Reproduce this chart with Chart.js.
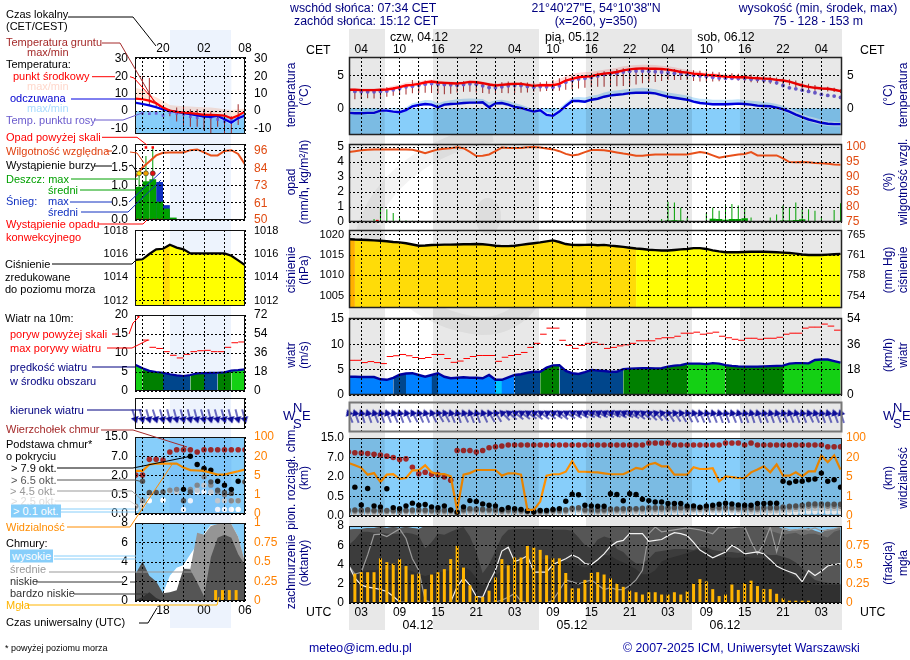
<!DOCTYPE html>
<html lang="pl"><head><meta charset="utf-8">
<style>
html,body{margin:0;padding:0;background:#fff;width:910px;height:660px;overflow:hidden;font-family:"Liberation Sans",Arial,sans-serif}
.t{position:absolute;white-space:nowrap;font-size:11px;line-height:13px;transform:translateY(-50%)}
.c{transform:translate(-50%,-50%)}
.r{transform:translate(-50%,-50%) rotate(-90deg);font-size:12px}
canvas{position:absolute}
.b{position:absolute}
svg{position:absolute;left:0;top:0}
</style>
<script src="https://cdn.jsdelivr.net/npm/chart.js@4"></script>
</head><body>
<script>
// ---------- time axes ----------
const mainHours=[];for(let h=1;h<=78;h++)mainHours.push(h);
const sideHours=[14,15,16,17,18,19,20,21,22,23,24,25,26,27,28,29,30];
const mainTicks=[3,6,9,12,15,18,21,24,27,30,33,36,39,42,45,48,51,54,57,60,63,66,69,72,75];
const sideTicks=[15,18,21,24,27];
const cetLabels=['04','10','16','22','04','10','16','22','04','10','16','22','04'];
const utcLabels=['03','09','15','21','03','09','15','21','03','09','15','21','03'];
const greyBands=[[1.08,6.66],[14.27,30.76],[38.16,54.75],[62.26,78.23]];
const nightBand=[[18.95,28]];

// ---------- main temperature ----------
const tempMid=[2.8,2.8,2.75,2.75,2.75,2.8,2.85,3.0,3.2,3.45,3.55,3.7,3.9,4.05,3.9,3.85,3.8,3.75,3.85,4.0,3.95,3.8,3.6,3.45,3.55,3.65,3.7,3.7,3.55,3.4,3.5,3.5,3.5,3.7,4.2,4.45,4.7,4.8,4.85,5.1,5.25,5.35,5.5,5.75,5.9,6.0,6.05,6.0,6.0,5.95,5.85,5.7,5.5,5.4,5.25,5.15,5.05,5.0,4.9,4.8,4.75,4.7,4.7,4.6,4.55,4.5,4.45,4.3,4.2,4.05,3.75,3.45,3.25,3.1,3.0,2.95,2.8,2.6];
const tempHi=[3.0,3.0,3.0,3.0,3.0,3.05,3.2,3.4,3.6,3.9,4.0,4.1,4.25,4.35,4.2,4.1,4.05,4.0,4.1,4.25,4.2,4.05,3.85,3.75,3.85,3.95,4.0,3.95,3.85,3.7,3.8,3.85,3.95,4.4,4.9,5.2,5.4,5.5,5.55,5.7,5.85,6.0,6.15,6.35,6.5,6.55,6.6,6.6,6.55,6.45,6.35,6.2,6.0,5.85,5.7,5.55,5.4,5.35,5.25,5.15,5.1,5.05,5.0,4.95,4.85,4.75,4.7,4.55,4.45,4.3,4.0,3.7,3.5,3.35,3.25,3.2,3.05,2.85];
const tempLo=[2.6,2.6,2.6,2.6,2.6,2.65,2.7,2.85,3.05,3.3,3.4,3.55,3.75,3.85,3.75,3.7,3.65,3.6,3.7,3.85,3.8,3.65,3.45,3.3,3.4,3.5,3.55,3.55,3.4,3.25,3.35,3.35,3.35,3.5,4.0,4.3,4.55,4.65,4.7,4.95,5.1,5.2,5.35,5.6,5.75,5.85,5.9,5.85,5.85,5.8,5.7,5.55,5.35,5.25,5.1,5.0,4.9,4.85,4.75,4.65,4.6,4.55,4.55,4.45,4.4,4.35,4.3,4.15,4.05,3.9,3.6,3.3,3.1,2.95,2.85,2.8,2.65,2.45];
const feltMid=[-0.7,-0.75,-0.75,-0.7,-0.7,-0.35,-0.35,-0.5,-0.6,-0.3,0.3,0.5,0.65,0.55,0.15,0.55,0.65,0.7,0.8,0.85,0.85,0.9,0.15,0.75,0.8,0.55,0.2,0.05,-0.25,-0.5,-0.3,-1.0,-1.15,-0.5,0.35,1.1,1.1,1.0,1.3,1.45,1.75,1.95,2.05,2.15,2.3,2.35,2.35,2.35,2.25,2.0,1.75,1.6,1.45,1.3,1.0,0.8,0.7,0.6,0.6,0.6,0.65,0.7,0.65,0.55,0.4,0.35,0.3,0.1,-0.15,-0.5,-0.95,-1.35,-1.7,-1.95,-2.2,-2.35,-2.4,-2.4];
const feltHi=[-0.4,-0.45,-0.5,-0.45,-0.4,-0.05,0,-0.1,-0.15,0.15,0.75,1.0,1.25,1.2,0.75,1.05,1.2,1.35,1.45,1.5,1.45,1.4,0.9,1.2,1.3,1.1,0.8,0.55,0.2,-0.1,0.05,-0.55,-0.7,0,0.85,1.6,1.7,1.65,1.9,2.05,2.4,2.6,2.7,2.85,2.95,3.05,3.1,3.05,2.9,2.65,2.4,2.25,2.1,1.95,1.65,1.45,1.4,1.3,1.3,1.3,1.3,1.35,1.25,1.15,1.05,0.95,0.85,0.65,0.4,0,-0.45,-0.85,-1.2,-1.45,-1.75,-1.95,-2.05,-2.1];
const feltLo=[-0.9,-0.95,-0.95,-0.9,-0.9,-0.55,-0.6,-0.75,-0.8,-0.5,0.1,0.3,0.45,0.3,0,0.35,0.45,0.5,0.6,0.65,0.65,0.65,-0.05,0.5,0.55,0.3,0,-0.15,-0.45,-0.7,-0.55,-1.2,-1.35,-0.75,0.15,0.9,0.9,0.8,1.1,1.25,1.55,1.75,1.85,1.95,2.1,2.15,2.15,2.15,2.05,1.8,1.55,1.4,1.25,1.1,0.8,0.6,0.5,0.4,0.4,0.4,0.45,0.5,0.45,0.35,0.2,0.15,0.1,-0.15,-0.45,-0.85,-1.3,-1.7,-2.0,-2.3,-2.55,-2.7,-2.75,-2.75];
const dewPoint=[2.6,2.55,2.5,2.5,2.5,2.55,2.6,2.8,3.0,3.25,3.35,3.5,3.65,3.75,3.65,3.6,3.55,3.5,3.6,3.7,3.65,3.4,3.15,3.1,3.25,3.4,3.45,3.45,3.3,3.2,3.3,3.25,3.2,3.4,3.95,4.25,4.45,4.55,4.65,4.9,5.1,5.2,5.3,5.5,5.6,5.65,5.65,5.6,5.55,5.5,5.4,5.3,5.2,5.1,5.0,4.9,4.8,4.7,4.6,4.55,4.55,4.5,4.5,4.4,4.35,4.25,4.15,3.85,3.45,3.1,2.95,2.75,2.55,2.35,2.1,1.95,1.85,1.65];
const soilMax=[2.75,2.7,2.7,2.77,2.75,2.8,3.18,3.2,3.28,3.6,4.29,4.2,4.19,4.2,4.0,3.88,3.9,3.95,4.09,4.1,4.1,3.95,3.8,3.8,3.95,4.04,4.05,4.0,3.9,3.85,3.95,4.1,4.3,4.54,4.7,4.85,4.9,5.0,5.05,5.4,5.6,5.8,5.95,6.05,6.05,6.05,6.05,6.05,6.05,6.05,6.05,5.95,5.85,5.8,5.75,5.7,5.6,5.55,5.45,5.35,5.3,5.25,5.2,5.1,5.0,4.9,4.8,4.65,4.5,4.4,4.2,3.9,3.7,3.53,3.35,3.25,3.1,2.9];
const soilMin=[1.7,1.35,1.4,1.51,1.5,1.55,1.76,1.9,2.0,2.1,2.27,2.3,2.37,2.3,2.2,2.12,2.2,2.4,2.52,2.5,2.4,2.3,2.2,2.25,2.3,2.27,2.3,2.35,2.4,2.5,2.55,2.6,2.65,2.67,2.8,2.9,3.0,3.1,3.18,3.25,3.28,3.3,3.35,3.38,3.45,3.6,3.78,3.9,4.0,4.15,4.29,4.3,4.3,4.29,4.15,4.04,4.04,4.04,4.1,4.2,4.29,4.2,4.1,3.95,3.85,3.78,3.7,3.6,3.55,3.48,3.2,2.95,2.75,2.67,2.6,2.55,2.45,2.3];

// ---------- main precipitation / humidity ----------
const humidity=[98.3,98.6,98.9,99.1,99.2,99.2,99.2,99.2,99.2,99.2,99.1,98.6,97.9,98.6,99.2,99.4,99.6,99.9,99.6,98.4,97.0,97.1,97.5,98.6,99.8,99.7,99.7,99.7,99.9,100,99.8,99.5,99.2,98.6,97.7,97.2,97.5,98.3,99.0,99.0,98.9,98.6,98.2,97.8,97.5,97.1,97.1,97.3,97.5,97.5,97.5,97.5,97.5,97.5,97.9,98.3,98.0,97.2,96.4,96.8,97.2,97.5,97.7,98.3,97.2,97.2,97.2,97.2,96.2,95.0,94.9,95.0,94.9,94.7,94.6,94.4,94.2,94.1];
const rainMax=[0,0,0,0,0.2,1.0,0.85,0.6,0.25,0.1,0.08,0.03,0,0,0,0,0,0,0,0,0,0,0,0,0,0,0,0,0,0,0,0,0,0,0,0,0,0,0,0,0.03,0,0,0,0,0,0,0,0,0.2,1.35,1.3,0.95,0.3,0.05,0,0.6,0.95,0.75,1.1,1.2,1.1,0.95,0.3,0,0,0.3,0.5,1.1,1.0,1.3,0.85,0.85,0.75,0.35,0,0.8,1.25];
const rainMean=[0,0,0,0,0,0.03,0.02,0.01,0,0,0,0,0,0,0,0,0,0,0,0,0,0,0,0,0,0,0,0,0,0,0,0,0,0,0,0,0,0,0,0,0,0,0,0,0,0,0,0,0,0.02,0.1,0.12,0.1,0.02,0,0,0.03,0.22,0.2,0.15,0.2,0.2,0.25,0.05,0,0,0,0.03,0.1,0.1,0.13,0.18,0.05,0.06,0.02,0,0.03,0.08];
const convectiveHours=[5.5];

// ---------- main pressure ----------
const pressure=[1018.9,1018.8,1018.75,1018.7,1018.6,1018.5,1018.4,1018.2,1018.1,1017.9,1017.6,1017.3,1017.35,1017.45,1017.5,1017.55,1017.55,1017.6,1017.65,1017.65,1017.7,1017.65,1017.5,1017.3,1017.2,1017.2,1017.3,1017.5,1017.7,1017.9,1018.1,1018.35,1018.6,1018.2,1017.7,1017.5,1017.45,1017.5,1017.55,1017.4,1017.5,1017.3,1017.15,1017.0,1016.8,1016.6,1016.5,1016.3,1016.2,1016.1,1016.1,1016.25,1016.4,1016.5,1016.7,1016.7,1016.5,1016.15,1015.9,1015.7,1015.7,1015.7,1015.75,1015.8,1015.8,1015.8,1015.75,1015.7,1015.6,1015.5,1015.35,1015.15,1015.0,1015.0,1015.0,1015.1,1015.2,1015.3];
const pressureTone=[0,0,1,1,1,1,1,1,1,1,1,1,1,1,1,1,1,1,1,1,1,1,1,1,1,1,1,1,1,1,1,1,1,1,1,1,1,1,1,1,1,1,1,1,1,1,2,2,2,2,2,2,2,2,2,2,2,2,2,2,2,2,2,2,2,2,2,2,2,2,2,2,2,2,2,2,2,2];
const pressureColors=['#ffb000','#ffdc08','#ffff00'];

// ---------- main wind ----------
const gustMax=[6.85,6.85,6.85,6.4,6.6,6.4,6.2,7.6,7.75,8,7.75,7.4,7.2,7.4,8,8,7.2,6.45,6.7,7.2,7.6,7.8,7.8,7.8,6.65,7.45,7.8,8,8.4,9.4,10.2,12,13.2,13.2,10.8,9.8,9.2,9.8,10.2,10.4,10,9.2,9.4,9.7,9.9,10.2,10.7,10.7,10.7,11.1,11.3,11.3,11.6,12.2,12.2,12.4,12,12.2,12.4,11.6,11.3,11,10.8,11.2,11.2,11,11.2,11.2,11.4,12,12.2,12.2,13.2,13.4,13.4,14,13.6,12.8];
const windSpeed=[3.6,3.6,3.55,3.55,3.55,3.1,3.0,3.4,4.0,4.25,4.3,3.95,3.6,3.95,4.3,3.6,3.3,3.4,3.5,3.4,3.4,3.3,3.95,3.0,3.0,3.5,3.95,4.1,4.4,4.6,4.6,5.4,5.85,5.9,4.75,4.3,4.15,4.5,4.95,4.85,4.75,4.6,4.6,5.1,5.2,5.25,5.3,5.3,5.25,5.3,5.6,5.8,5.9,6.2,6.2,6.2,6.1,6.3,6.2,5.9,5.75,5.65,5.6,5.6,5.6,5.65,5.7,5.75,5.8,6.2,6.3,6.3,6.25,6.9,7,7,6.7,6.4];
const windClass=[0,0,0,0,0,0,0,0,2,2,0,0,0,0,2,0,0,0,0,0,0,0,0,0,1,0,0,2,2,2,2,3,3,3,2,2,2,2,2,2,2,2,2,2,3,3,3,3,3,3,3,3,3,3,4,4,4,4,4,4,3,3,3,3,3,3,3,3,3,4,4,4,4,4,4,4,4,4];
const windColors=['#0080ff','#00c8ff','#00468c','#008000','#14d014'];
const windDir=[158,160,162,160,158,160,158,156,160,155,152,156,158,154,150,152,158,160,155,158,160,155,150,148,135,130,128,126,124,128,126,124,122,128,122,120,118,116,118,116,116,114,118,116,122,126,130,134,138,142,146,146,150,152,154,156,158,158,160,160,158,160,160,162,160,158,160,158,156,158,160,158,155,158,160,160,160,162];

// ---------- main cloud base (axis steps 0..4 = 0, 0.5, 2, 7, 15 km) ----------
const baseLabels=['0.0','0.5','2.0','7.0','15.0'];
const visLabels=['0','1','5','20','100'];
const cloudTopBase=[3.28,3.24,3.23,3.2,3.17,3.13,3.07,3.0,2.9,2.93,2.5,2.17,2.24,2.14,2.12,2.0,1.83,3.36,3.36,3.36,3.28,3.36,3.5,3.55,3.59,3.64,3.64,3.64,3.64,3.64,3.64,3.64,3.64,3.64,3.64,3.64,3.64,3.64,3.64,3.64,3.64,3.64,3.64,3.64,3.64,3.64,3.64,3.74,3.74,3.74,3.74,3.64,3.64,3.64,3.64,3.64,3.64,3.64,3.64,3.74,3.74,3.74,3.64,3.74,3.64,3.64,3.64,3.64,3.64,3.64,3.64,3.64,3.64,3.64,3.64,3.55,3.55,3.55];
const base79=[null,1.48,0.57,1.41,0.52,0.47,1.4,0.43,0.38,0.52,0.66,0.55,0.59,0.47,0.43,0.52,0.31,0.2,0.47,0.79,0.74,0.62,0.55,0.52,0.34,0.43,0.38,0.34,0.26,0.22,0.29,0.29,0.34,0.38,0.76,1.12,1.09,0.55,0.52,0.5,0.5,1.14,1.1,0.78,1.14,1.1,0.86,0.79,0.72,0.72,0.64,0.64,0.64,0.52,0.52,0.45,0.52,0.55,0.6,0.66,0.62,0.57,0.55,0.55,0.64,0.64,0.66,0.66,1.78,1.7,1.78,1.78,1.86,1.9,2.2,1.78,1.86,1.48];
const base65=[0.3,0.31,0.3,0.32,0.3,0.3,0.29,0.3,0.28,0.3,0.31,0.32,0.31,0.3,0.29,0.31,0.3,0.2,0.33,0.37,0.36,0.35,0.34,0.33,0.3,0.32,0.31,0.3,0.27,0.24,0.26,0.26,0.3,0.31,0.32,0.4,0.42,0.33,0.32,0.32,0.33,0.36,0.36,0.38,0.38,0.38,0.4,0.42,0.42,0.42,0.42,0.44,0.44,0.44,0.42,0.42,0.41,0.43,0.43,0.44,0.43,0.42,0.42,0.42,0.42,0.43,0.44,0.44,0.46,0.5,0.52,0.56,0.6,0.62,0.62,0.6,0.6,0.6];
const base45=[0.24,0.25,0.24,0.26,0.24,0.25,0.23,0.24,0.22,0.25,0.25,0.26,0.25,0.24,0.23,0.25,0.24,0.14,0.27,0.3,0.3,0.29,0.28,0.27,0.24,0.26,0.25,0.24,0.21,0.18,0.2,0.2,0.24,0.25,0.26,0.33,0.35,0.27,0.26,0.26,0.27,0.3,0.3,0.31,0.32,0.32,0.33,0.35,0.35,0.35,0.35,0.36,0.37,0.36,0.35,0.35,0.34,0.36,0.36,0.37,0.36,0.35,0.35,0.35,0.35,0.36,0.37,0.37,0.38,0.42,0.44,0.47,0.5,0.52,0.52,0.5,0.5,0.5];
const base25=[0.17,0.18,0.17,0.19,0.17,0.18,0.16,0.17,0.15,0.18,0.18,0.19,0.18,0.17,0.16,0.18,0.17,0.1,0.2,0.22,0.22,0.21,0.2,0.2,0.17,0.19,0.18,0.17,0.15,0.13,0.14,0.14,0.17,0.18,0.19,0.24,0.26,0.2,0.19,0.19,0.2,0.22,0.22,0.23,0.24,0.24,0.25,0.26,0.26,0.26,0.26,0.27,0.27,0.27,0.26,0.26,0.25,0.27,0.27,0.27,0.27,0.26,0.26,0.26,0.26,0.27,0.27,0.27,0.28,0.31,0.33,0.35,0.38,0.39,0.39,0.38,0.38,0.38];
const base01=[0.09,0.1,0.09,0.1,0.09,0.1,0.09,0.09,0.08,0.1,0.1,0.1,0.1,0.09,0.09,0.1,0.09,0.06,0.11,0.12,0.12,0.11,0.11,0.11,0.09,0.1,0.1,0.09,0.08,0.07,0.08,0.08,0.09,0.1,0.1,0.13,0.14,0.11,0.1,0.1,0.11,0.12,0.12,0.13,0.13,0.13,0.14,0.14,0.14,0.14,0.14,0.15,0.15,0.15,0.14,0.14,0.14,0.15,0.15,0.15,0.15,0.14,0.14,0.14,0.14,0.15,0.15,0.15,0.16,0.17,0.18,0.19,0.21,0.22,0.22,0.21,0.21,0.21];
const visibility=[2.72,2.6,2.47,2.12,2.2,1.74,2.12,2.15,1.9,1.95,2.34,2.34,2.6,2.24,2.15,2.15,2.03,0.31,2.12,2.2,2.36,2.36,2.36,2.36,2.07,2.19,2.19,2.12,0.31,0.31,0.74,2.07,2.14,2.14,2.27,2.81,2.27,2.27,2.25,2.24,2.19,2.14,2.14,2.14,2.29,2.47,2.41,2.64,2.72,2.55,2.55,2.12,2.12,2.12,2.5,2.41,2.41,2.45,1.78,2.03,1.99,1.95,1.95,2.24,2.38,2.55,2.24,2.64,2.07,2.07,2.24,2.03,2.29,2.29,3.1,2.76,3.1,2.38];

// ---------- main clouds ----------
const cloudA=[7.6,7.7,7.7,7.8,7.8,7.9,7.8,7.9,7.8,7.9,7.8,7.7,8,8,8,8,8,8,8,8,8,8,8,8,8,8,8,8,8,8,8,8,8,8,8,8,8,8,8,8,8,8,8,8,8,8,8,8,8,8,8,8,8,8,8,8,8,8,8,8,8,8,8,8,8,8,8,8,7.7,7.5,7.7,7.6,7.8,7.5,7.3,7.7,7.7,7.9];
const cloudB=[7.6,7.7,7.7,7.8,7.8,7.9,7.8,7.9,7.8,7.9,7.8,7.7,8,8,8,8,8,8,8,8,8,8,8,8,8,8,8,8,8,8,8,8,8,8,8,8,8,8,8,8,8,8,8,8,8,8,8,8,8,8,8,8,8,8,8,8,8,8,8,8,8,8,8,8,8,7.7,7.5,7.3,7.1,7.2,7.3,7.0,7.2,7.2,7.0,6.8,7.4,7.6];
const cloudC=[6.0,6.6,7.4,7.4,7.3,7.3,7.2,7.2,7.2,7.3,7.2,7.0,5.7,6.3,7.2,7.1,7.4,7.7,7.9,6.9,5.3,3.1,4.0,5.4,6.9,7.6,7.7,7.7,7.7,7.7,7.7,7.7,7.6,7.6,7.6,7.5,6.8,6.0,5.7,6.6,6.9,6.7,5.6,5.3,4.6,4.1,4.1,4.6,5.3,5.4,5.5,5.6,5.6,5.6,5.5,5.8,5.8,5.5,5.4,5.3,5.3,5.2,5.3,5.2,5.2,5.1,5.0,5.0,4.8,4.6,4.2,3.6,3.0,2.4,2.2,2.1,2.0,2.0];
const cloudD=[3.0,3.1,3.3,3.4,3.4,3.5,3.5,3.4,3.4,3.5,3.3,3.0,2.8,3.0,3.2,3.3,3.4,3.6,3.8,3.4,2.6,1.8,2.2,2.8,3.4,3.8,4.0,4.1,4.2,4.4,4.5,4.6,4.6,4.5,4.3,4.1,3.9,3.7,3.9,4.4,5.0,4.9,4.5,4.2,3.9,3.5,3.0,3.0,3.4,4.3,4.6,4.8,5.0,5.2,5.4,5.6,5.5,5.0,4.8,4.8,4.7,4.7,4.8,4.7,4.7,4.6,4.4,4.0,3.6,3.0,2.6,2.2,2.0,1.9,1.9,1.9,1.9,1.9];
const lineWhite=[3.95,2.6,1.85,1.65,1.55,1.4,1.2,0.7,0.1,0.05,0,0,0,0,0,0,0.1,1.7,2.6,1.85,0.7,0.6,2.1,3.4,5.4,5.8,4.3,4.55,4.9,3.2,3.2,3.2,4.0,4.3,4.6,5.0,4.7,4.1,4.0,4.5,5.1,5.9,6.35,6.5,7.2,7.2,7.2,6.4,6.5,6.6,7.0,7.3,7.2,7.0,6.3,5.5,5.1,4.7,5.0,5.3,6.0,5.6,5.1,5.2,5.3,5.1,4.5,3.85,3.5,3.25,3.0,2.2,3.35,2.85,3.3,3.85,4.0,4.1];
const lineGrey=[3.95,3.0,3.2,5.0,7.1,7.15,6.9,7.3,7.7,6.7,4.6,3.4,0.3,0,0,0,0,0,0,0,0,0,0,0.1,0.3,0.6,1.0,0.2,0,0,0,0,0.3,1.3,2.4,2.2,2.0,2.2,2.4,1.9,1.4,1.6,1.4,1.4,1.8,2.4,3.4,7.2,7.9,7.4,7.5,7.6,7.7,7.8,7.7,7.6,7.4,7.2,7.9,7.8,7.8,7.9,7.9,6.4,5.1,6.2,7.9,5.3,7.8,7.6,7.6,7.7,7.6,7.8,7.5,7.6,7.7,7.9];
const fogShare=[0.3,0.38,0.4,0.4,0.4,0.58,0.53,0.51,0.57,0.48,0.37,0.38,0.18,0.37,0.4,0.44,0.57,0.74,0.46,0.23,0.09,0.08,0.16,0.33,0.57,0.49,0.59,0.59,0.74,0.72,0.69,0.62,0.58,0.58,0.39,0.19,0.19,0.3,0.39,0.4,0.37,0.32,0.25,0.21,0.16,0.14,0.11,0.14,0.14,0.11,0.11,0.14,0.11,0.15,0.25,0.31,0.28,0.18,0.09,0.11,0.24,0.17,0.26,0.29,0.22,0.18,0.18,0.12,0.06,0.03,0.03,0.03,0.03,null,null,null,null,null];

// ---------- side column ----------
const sideTemp=[7.2,6.8,6,4.5,2,0.3,-0.5,-0.9,-1.2,-1.6,-2.2,-2.2,-2.3,-2.6,-4.1,-2.5,-0.3];
const sideTempHi=[13.3,12.5,9.5,8,6,3.5,3,2.8,2.6,2.4,2.2,2,1.6,1,0.6,1,1.5];
const sideTempLo=[6.5,6,5,3.5,1.2,-0.3,-1,-1.5,-1.8,-2.2,-2.8,-2.8,-2.8,-3.2,-5,-3.2,-1];
const sideFelt=[4.8,4.1,3.3,2.2,1,0.1,-0.5,-1.2,-1.8,-2.5,-3.2,-3.3,-2.8,-4.7,-6.7,-4.1,-2.6];
const sideFeltHi=[5.5,5,4,3,1.8,0.8,0,-0.5,-1,-1.8,-2.5,-2.6,-2.1,-4,-6,-3.4,-2];
const sideFeltLo=[4,3.4,2.6,1.4,0.2,-0.8,-1.4,-2.1,-2.7,-3.4,-4.2,-4.2,-3.8,-5.8,-8,-5.2,-3.6];
const sideDew=[null,-1.3,-1.5,-1.3,-2.5,-0.8,-1.3,-1.9,-3.2,-3.8,-3.2,-3.8,-4.8,-6,-5,-4,-2.5];
const sideSoilMax=[null,20.2,19,5,3,1,2,3,1,1,1,0,-2,-2,-3,4,null];
const sideSoilMin=[null,6.4,3,2,0,-3,-6,-8,-9,-9,-11,-13,-9,-13,-13,-8,null];
const sideHumidity=[79,85,89,93,94.7,95,95,95,96.5,97,95,93,93,96,96.5,94,87];
const sideRainMean=[0.96,1.12,1.18,0.53,0.33,0.07,0,0,0,0,0,0,0,0,0,0,0];
const sideSnowMean=[0,0,0,1.1,0.43,0,0,0,0,0,0,0,0,0,0,0,0];
const sideStemHours=[14.5,15.5,16.5];
const sideStemTop=[1.35,1.85,2.1];
const sideStormColors=['#ffe000','#f0a000','#e01010'];
const sideOverHours=[15.5,16.5];
const sideConvective=[14.3,14.9,15.5,16,16.6,17.2,17.8];
const sidePressure=[1015.5,1015.55,1016.0,1016.4,1016.45,1016.8,1016.55,1016.4,1016.05,1016.05,1016.05,1016.05,1016.05,1016.05,1015.85,1015.45,1015.05];
const sidePressureTone=[2,2,2,2,2,1,2,2,2,2,2,2,2,2,2,2,2];
const sideGust=[null,null,13.4,11.5,11.2,10.35,9.4,8.7,9.65,10.35,10.6,10.7,10.35,10.35,11.5,12.7,12.9];
const sideWind=[6.85,6,5.3,5,4.8,4.4,4.1,3.95,4.2,4.65,4.7,4.75,4.8,4.9,5.35,5.5,5.7];
const sideWindClass=[4,4,3,3,3,2,2,2,2,3,3,2,2,3,3,4,4];
const sideDir=[342,345,344,342,344,346,345,344,346,345,344,346,345,344,345,346,345];
const sideTop=[2.02,2.02,2.84,2.84,2.8,3.22,3.34,3.34,3.34,3.22,3.34,3.34,3.34,3.34,3.34,3.34,3.34];
const side79=[null,null,null,null,null,null,null,1.28,3.0,2.57,2.36,2.28,1.7,1.5,1.28,1.7,null];
const side65=[null,1.7,1.12,1.12,1.15,null,null,0.69,1.15,null,2.3,1.67,1.24,1.12,1.07,null,1.67];
const side45=[0.41,0.69,null,null,null,1.24,1.28,null,1.28,1.5,1.93,1.5,1.15,1.0,0.69,0.69,1.67];
const side25=[0.34,0.41,1.0,null,null,1.19,1.15,null,null,1.24,1.5,1.15,0.69,0.69,0.69,0.69,null];
const side01=[0.29,0.45,0.69,null,0.72,null,null,0.24,0.69,1.15,1.15,1.1,0.24,0.24,0.24,0.24,null];
const sideVis=[2.24,2.24,2.57,2.62,2.62,2.62,2.62,2.41,2.28,2.26,2.24,2.14,2.05,2.05,2.14,2.22,2.31];
const sideCloudWhite=[0,0,0,0,0.8,2.6,3.4,3.7,4.8,5.8,6.9,7.8,7.8,7.9,7.9,6.6,4.0];
const sideCloudGrey=[0,0,0,0,0,0,0,3.3,3.3,7.0,6.8,7.7,7.9,7.9,7.9,6.6,4.0];
const sideCloudDark=[2.8,4.05,2.6,2.0,0.8,0.9,1.1,3.3,3.2,1.9,0.5,4.5,6.5,6.8,6.5,4.8,3.7];
const sideCloudLow=[0.1,0.4,0.9,0.3,0,0,0,0,0,0,0,0,0,0,0,0,0];
const sideFog=[null,null,null,null,null,null,null,null,null,null,null,null,0.14,0.14,0.14,0.14,null];

// ---------- text ----------
const navy='#000080';
function T(s,x,y,c,extra){const d=document.createElement('div');d.className='t';d.textContent=s;d.style.left=x+'px';d.style.top=y+'px';d.style.color=c||'#000';if(extra)Object.assign(d.style,extra);document.body.appendChild(d);return d}
function C(s,x,y,c,extra){const d=T(s,x,y,c,extra);d.classList.add('c');return d}
function R(s,x,y){const d=T(s,x,y,navy);d.className='t r';return d}

// ---------- backdrop ----------
const mainX={l:349,r:842,min:1.08,max:78.23};
const sideX={l:135,r:245,min:13.9,max:30};
function px(ax,h){return ax.l+(h-ax.min)/(ax.max-ax.min)*(ax.r-ax.l)}
document.body.insertAdjacentHTML('beforeend','<svg width="910" height="660" style="z-index:0"><g fill="none" stroke="#f3f3f3" stroke-width="18"><path d="M365 232C380 180 430 145 492 133"/><path d="M372 225C372 272 420 322 482 326C522 326 542 292 546 258"/></g><ellipse cx="488" cy="216" rx="13" ry="18" fill="#f3f3f3"/></svg>');
greyBands.forEach(b=>{const x0=px(mainX,b[0]),x1=px(mainX,b[1]);const d=document.createElement('div');d.className='b';Object.assign(d.style,{left:x0+'px',width:(x1-x0)+'px',top:'29px',height:'601px',background:'#e8e8e8',mixBlendMode:'multiply'});document.body.appendChild(d)});
nightBand.forEach(b=>{const x0=px(sideX,b[0]),x1=px(sideX,b[1]);const d=document.createElement('div');d.className='b';Object.assign(d.style,{left:x0+'px',width:(x1-x0)+'px',top:'30px',height:'598px',background:'#edf3fd'});document.body.appendChild(d)});

// ---------- chart helpers ----------
const FONT={family:'"Liberation Sans",Arial,sans-serif',size:11};
const FONT_BIG={family:'"Liberation Sans",Arial,sans-serif',size:12};
Chart.defaults.font=FONT;Chart.defaults.animation=false;
const xy=(hs,vs)=>hs.map((h,i)=>({x:h,y:vs[i]}));
const line=(hs,vs,c,w,o)=>Object.assign({type:'line',data:xy(hs,vs),borderColor:c,borderWidth:w,pointRadius:0,tension:0,fill:false},o||{});
const dots=(hs,vs,c,r,o)=>Object.assign({type:'line',data:xy(hs,vs),showLine:false,pointRadius:r,pointBackgroundColor:c,pointBorderColor:c,pointBorderWidth:0},o||{});
const bars=(hs,vs,c,w,o)=>Object.assign({type:'bar',data:xy(hs,vs),backgroundColor:c,barThickness:w,grouped:false,inflateAmount:0},o||{});
const area=(hs,vs,c,o)=>Object.assign({type:'line',data:xy(hs,vs),borderWidth:0,pointRadius:0,tension:0,fill:'start',backgroundColor:c,borderColor:'transparent'},o||{});
const toned=(vs,tone,key)=>vs.map((v,i)=>(tone[i]===key||tone[i+1]===key)?v:null);
const multiplyPlugin=bands=>({id:'mult',afterDatasetsDraw(ch){const {ctx,chartArea:a,scales:{x}}=ch;ctx.save();ctx.globalCompositeOperation='multiply';ctx.fillStyle=bands.col;bands.list.forEach(b=>{const x0=Math.max(a.left,x.getPixelForValue(b[0])),x1=Math.min(a.right,x.getPixelForValue(b[1]));ctx.fillRect(x0,a.top,x1-x0,a.bottom-a.top)});ctx.restore()}});
const framePlugin=(c,w)=>({id:'frame',afterDraw(ch){const {ctx,chartArea:a}=ch;ctx.save();ctx.strokeStyle=c;ctx.lineWidth=w;ctx.strokeRect(a.left+.5,a.top+.5,a.right-a.left-1,a.bottom-a.top-1);ctx.restore()}});
const noPad=s=>{s.paddingTop=0;s.paddingBottom=0;s.paddingLeft=0;s.paddingRight=0};
function yAxis(side,cfg,M){return {type:'linear',position:side,min:cfg.min,max:cfg.max,
  afterBuildTicks(s){s.ticks=cfg.ticks.map(v=>({value:v}))},
  afterFit(s){s.width=M;noPad(s)},
  grid:{display:!!cfg.grid,color:'#000',lineWidth:1,drawTicks:false,z:1},
  border:{display:false,dash:[2,2]},
  ticks:{display:true,color:cfg.color||'#000',padding:cfg.pad,autoSkip:false,font:cfg.font||FONT,callback(v,i){return cfg.labels?cfg.labels[i]:String(v)}}}}
function panel(rect,ax,xt,opt){
  const M=70,top=opt.xLabels==='top'?22:8,bot=opt.xLabels==='bottom'?22:8;
  const cv=document.createElement('canvas');
  const W=ax.r-ax.l+2*M,H=rect[1]-rect[0]+top+bot;
  cv.width=W;cv.height=H;cv.style.left=(ax.l-M)+'px';cv.style.top=(rect[0]-top)+'px';cv.style.width=W+'px';cv.style.height=H+'px';
  document.body.appendChild(cv);
  opt.datasets.forEach((d,i)=>{d.order=-i;d.xAxisID='x';d.yAxisID=d.yAxisID||'y'});
  const scales={x:{type:'linear',offset:false,position:opt.xLabels==='top'?'top':'bottom',min:ax.min,max:ax.max,
      afterBuildTicks(s){s.ticks=xt.map(v=>({value:v}))},
      afterFit(s){s.height=opt.xLabels==='top'?top:(opt.xLabels==='bottom'?bot:0);noPad(s)},
      grid:{offset:false,color:'#000',lineWidth:1,drawTicks:false,z:1},border:{display:false,dash:[2,2]},
      ticks:{display:!!opt.xLabels,color:'#000',autoSkip:false,maxRotation:0,padding:opt.xPad||0,font:opt.xFont||FONT,callback(v){return opt.xFn?opt.xFn(v):''}}},
    y:yAxis('left',opt.y,M)};
  if(opt.yr)scales.yr=yAxis('right',opt.yr,M);
  const plugins=[];
  if(opt.mult)plugins.push(multiplyPlugin(opt.mult));
  if(opt.bg)plugins.push({id:'bg',beforeDatasetsDraw(ch){const a=ch.chartArea;ch.ctx.save();ch.ctx.fillStyle=opt.bg;ch.ctx.fillRect(a.left,a.top,a.right-a.left,a.bottom-a.top);ch.ctx.restore()}});
  plugins.push(framePlugin(opt.fc||'#111',opt.fw||1));
  return new Chart(cv,{type:'line',data:{datasets:opt.datasets},plugins,
    options:{responsive:false,animation:false,devicePixelRatio:1,
      layout:{padding:{top:opt.xLabels==='top'?0:top,bottom:opt.xLabels==='bottom'?0:bot,left:0,right:opt.yr?0:M}},
      plugins:{legend:{display:false},tooltip:{enabled:false}},scales}});
}
function arrowImage(col){const c=document.createElement('canvas');c.width=c.height=30;const g=c.getContext('2d');g.strokeStyle=col;g.fillStyle=col;g.lineWidth=1.2;g.beginPath();g.moveTo(15,15);g.lineTo(15,26);g.stroke();g.beginPath();g.moveTo(15,11.5);g.lineTo(11,18);g.lineTo(19,18);g.closePath();g.fill();return c}
const arrow=arrowImage('#0c0c98');
const MF={col:'#e8e8e8',list:greyBands},SF={col:'#edf3fd',list:nightBand};
const gustX=mainHours.map(h=>h-0.5),sideGustX=sideHours.map(h=>h-0.5);
const mainCet=v=>{const k=(v-3)/6;return Number.isInteger(k)?cetLabels[k]:''};
const mainUtc=v=>{const k=(v-3)/6;return Number.isInteger(k)?utcLabels[k]:''};
const sideCet=v=>({18:'20',24:'02',30:'08'})[v]||'';
const sideUtc=v=>({18:'18',24:'00',30:'06'})[v]||'';
// the side axes carry their end label as an extra unlined tick
const sideTicksL=sideTicks.concat([30]);

// ---------- MAIN PANELS ----------
const SKY='#87cefa',BLUE='#0000e0',RED='#ff0000',BROWN='#a52a2a',DEW='#7060d8';
const BF=FONT_BIG;
panel([57,135],mainX,mainTicks,{xLabels:'top',xPad:0,xFn:mainCet,xFont:BF,mult:MF,fw:1.5,fc:'#222',
 y:{min:-4.05,max:7.77,ticks:[5,0],grid:1,pad:5,font:BF},yr:{min:-4.05,max:7.77,ticks:[5,0],pad:5,font:BF},
 datasets:[
  area(mainHours,mainHours.map(()=>0),SKY),
  line(mainHours,tempHi,'transparent',0,{fill:'+1',backgroundColor:'#ffdcdc'}),
  line(mainHours,tempLo,'transparent',0),
  line(mainHours,feltHi,'transparent',0,{fill:'+1',backgroundColor:'#bfe3fb'}),
  line(mainHours,feltLo,'transparent',0),
  bars(mainHours,mainHours.map((h,i)=>[soilMin[i],soilMax[i]]),BROWN,1),
  dots(mainHours,dewPoint,DEW,1.9),
  line(mainHours,feltMid,BLUE,2.4),
  line(mainHours,tempMid,RED,2.4)
 ]});
panel([144,222],mainX,mainTicks,{fw:1.5,fc:'#222',
 y:{min:0,max:5.2,ticks:[0,1,2,3,4,5],grid:1,pad:5,font:BF},
 yr:{min:75,max:101,ticks:[75,80,85,90,95,100],color:'#e04a10',pad:4,font:BF},
 datasets:[
  bars(mainHours,rainMax,'#00a000',1),
  bars(mainHours,rainMean,'#00a000',6.4),
  dots(convectiveHours,[0.05],RED,2,{pointStyle:'rect'}),
  line(mainHours,humidity,'#e8501a',2,{yAxisID:'yr'})
 ]});
panel([230,308],mainX,mainTicks,{fw:1.5,fc:'#222',
 y:{min:1002,max:1021.15,ticks:[1020,1015,1010,1005],grid:1,pad:5},
 yr:{min:751.56,max:765.9,ticks:[765,761.3,757.6,753.8],labels:['765','761','758','754'],pad:5},
 datasets:[
  area(mainHours,toned(pressure,pressureTone,2),pressureColors[2]),
  area(mainHours,toned(pressure,pressureTone,1),pressureColors[1]),
  area(mainHours,toned(pressure,pressureTone,0),pressureColors[0]),
  line(mainHours,pressure,'#000',2.4)
 ]});
panel([318,395],mainX,mainTicks,{fw:1.5,fc:'#222',
 y:{min:0,max:15.2,ticks:[0,5,10,15],grid:1,pad:5,font:BF},
 yr:{min:0,max:54.7,ticks:[0,18,36,54],pad:5,font:BF},
 datasets:[
  ...windColors.map((c,k)=>area(mainHours,toned(windSpeed,windClass,k),c)),
  line(mainHours,windSpeed,'#0000a0',2.4),
  dots(gustX,gustMax,RED,3.3,{pointStyle:'line',pointBorderWidth:1})
 ]});
panel([402,432],mainX,mainTicks,{fw:2,fc:'#777',
 y:{min:0,max:1,ticks:[],pad:5},
 datasets:[dots(mainHours,mainHours.map(()=>0.65),'#0c0c98',8,{pointStyle:arrow,pointRotation:windDir.map(d=>d-180),clip:false})]});
panel([438,516],mainX,mainTicks,{mult:MF,bg:SKY,fw:1,fc:'#222',
 y:{min:0,max:4,ticks:[0,1,2,3,4],labels:baseLabels,grid:1,pad:5,font:BF},
 yr:{min:0,max:4,ticks:[0,1,2,3,4],labels:visLabels,color:'#ff8000',pad:4,font:BF},
 datasets:[
  dots(mainHours,base01,'#ffffff',2.7),
  dots(mainHours,base25,'#cfcfcf',2.7),
  dots(mainHours,base45,'#8c8c8c',2.7),
  dots(mainHours,base65,'#555555',2.7),
  dots(mainHours,base79,'#000000',2.7),
  dots(mainHours,cloudTopBase,BROWN,2.8),
  line(mainHours,visibility,'#ff9000',2.2)
 ]});
panel([526,603],mainX,mainTicks,{xLabels:'bottom',xPad:2,xFn:mainUtc,xFont:BF,bg:SKY,fc:'#111',
 y:{min:0,max:8,ticks:[0,2,4,6,8],grid:1,pad:5,font:BF},
 yr:{min:0,max:1,ticks:[0,.25,.5,.75,1],labels:['0','0.25','0.5','0.75','1'],color:'#ff8000',pad:4,font:BF},
 datasets:[
  area(mainHours,cloudA,'#6e6e6e'),
  area(mainHours,cloudB,'#565656'),
  area(mainHours,cloudC,'#3c3c3c'),
  area(mainHours,cloudD,'#303030'),
  line(mainHours,lineGrey,'#9a9a9a',1.2),
  line(mainHours,lineWhite,'#f2f2f2',1.2),
  bars(mainHours,fogShare,'#ffb400',3,{yAxisID:'yr'})
 ]});

// ---------- SIDE PANELS ----------
const ST=sideHours;
panel([57,134],sideX,sideTicksL,{xLabels:'top',xPad:1,xFn:sideCet,xFont:BF,mult:SF,
 y:{min:-13.2,max:31.15,ticks:[30,20,10,0,-10],grid:1,pad:7,font:BF},yr:{min:-13.2,max:31.15,ticks:[30,20,10,0,-10],pad:9,font:BF},
 datasets:[
  area(ST,ST.map(()=>0),SKY),
  line(ST,sideTempHi,'transparent',0,{fill:'+1',backgroundColor:'#ffe6da'}),
  line(ST,sideTempLo,'transparent',0),
  line(ST,sideFeltHi,'transparent',0,{fill:'+1',backgroundColor:'#bfe3fb'}),
  line(ST,sideFeltLo,'transparent',0),
  bars(ST,ST.map((h,i)=>sideSoilMax[i]===null?null:[sideSoilMin[i],sideSoilMax[i]]),BROWN,1),
  dots(ST,sideDew,DEW,1.9,{pointStyle:'rect'}),
  line(ST,sideFelt,BLUE,2.2),
  line(ST,sideTemp,RED,2.2)
 ]});
panel([144,220],sideX,sideTicksL,{
 y:{min:0,max:2.2,ticks:[0,.5,1,1.5,2],labels:['0.0','0.5','1.0','1.5','2.0'],grid:1,pad:7,font:BF},
 yr:{min:50,max:100.6,ticks:[50,61,73,84,96],color:'#e04a10',pad:9,font:BF},
 datasets:[
  bars(ST.map(h=>h+.5),sideSnowMean,'#1030c0',6.83),
  bars(ST.map(h=>h+.5),sideRainMean,'#00a000',6.83),
  bars(sideStemHours,sideStemTop,'#00a000',1),
  dots(sideConvective,sideConvective.map(()=>0.02),RED,1,{pointStyle:'rect'}),
  line(ST,sideHumidity,'#e8501a',2,{yAxisID:'yr'}),
  dots(sideStemHours,sideStemHours.map(()=>1.35),sideStormColors,2.5,{pointBorderColor:'#333',pointBorderWidth:.6}),
  dots(sideOverHours,sideOverHours.map(()=>2.1),RED,1.8,{pointStyle:'rect'})
 ]});
panel([230,306],sideX,sideTicksL,{
 y:{min:1011.54,max:1018.06,ticks:[1018,1016,1014,1012],grid:1,pad:7},yr:{min:1011.54,max:1018.06,ticks:[1018,1016,1014,1012],pad:9},
 datasets:[
  area(ST,toned(sidePressure,sidePressureTone,2),pressureColors[2]),
  area(ST,toned(sidePressure,sidePressureTone,1),pressureColors[1]),
  line(ST,sidePressure,'#000',2.2)
 ]});
panel([315,391],sideX,sideTicksL,{
 y:{min:0,max:20,ticks:[0,5,10,15,20],grid:1,pad:7,font:BF},yr:{min:0,max:72,ticks:[0,18,36,54,72],pad:9,font:BF},
 datasets:[
  ...windColors.map((c,k)=>area(ST,toned(sideWind,sideWindClass,k),c)),
  line(ST,sideWind,'#0000a0',2.2),
  dots(sideGustX,sideGust,RED,3.3,{pointStyle:'line',pointBorderWidth:1}),
  dots([14.4],[19.6],RED,1.5,{pointStyle:'rect'})
 ]});
panel([398,429],sideX,sideTicksL,{
 y:{min:0,max:1,ticks:[],pad:7},
 datasets:[dots(ST,ST.map(()=>0.29),'#0c0c98',8,{pointStyle:arrow,pointRotation:sideDir.map(d=>d-180),clip:false})]});
panel([437,514],sideX,sideTicksL,{mult:SF,bg:SKY,
 y:{min:0,max:4,ticks:[0,1,2,3,4],labels:baseLabels,grid:1,pad:7,font:BF},
 yr:{min:0,max:4,ticks:[0,1,2,3,4],labels:visLabels,color:'#ff8000',pad:9,font:BF},
 datasets:[
  dots(ST,side01,'#ffffff',2.7),
  dots(ST,side25,'#cfcfcf',2.7),
  dots(ST,side45,'#8c8c8c',2.7),
  dots(ST,side65,'#555555',2.7),
  dots(ST,side79,'#000000',2.7),
  dots(ST,sideTop,BROWN,2.8),
  line(ST,sideVis,'#ff9000',2.2)
 ]});
panel([523,601],sideX,sideTicksL,{xLabels:'bottom',xPad:2,xFn:sideUtc,xFont:BF,bg:SKY,
 y:{min:0,max:8,ticks:[0,2,4,6,8],grid:1,pad:7,font:BF},
 yr:{min:0,max:1,ticks:[0,.25,.5,.75,1],labels:['0','0.25','0.5','0.75','1'],color:'#ff8000',pad:9,font:BF},
 datasets:[
  area(ST,sideCloudWhite,'#ffffff'),
  area(ST,sideCloudGrey,'#959595'),
  area(ST,sideCloudDark,'#555555'),
  area(ST,sideCloudLow,'#333333'),
  bars(ST.map(h=>h-.3),sideFog,'#ffb400',3,{yAxisID:'yr'})
 ]});

// ---------- LABELS ----------
const H12={fontSize:'12.3px'};
T('wschód słońca: 07:34 CET',290,8,navy,H12);T('zachód słońca: 15:12 CET',294,21,navy,H12);
C('21°40\'27"E, 54°10\'38"N',596,8,navy,H12);C('(x=260,  y=350)',596,21,navy,H12);
C('wysokość (min, środek, max)',818,8,navy,H12);C('75 - 128 - 153 m',818,21,navy,H12);
C('czw, 04.12',419,37,'#000',H12);C('pią, 05.12',572,37,'#000',H12);C('sob, 06.12',726,37,'#000',H12);
T('CET',306,50,'#000',H12);T('CET',860,50,'#000',H12);T('UTC',306,612,'#000',H12);T('UTC',860,612,'#000',H12);
C('04.12',418,625,'#000',H12);C('05.12',572,625,'#000',H12);C('06.12',725,625,'#000',H12);
T('meteo@icm.edu.pl',309,648,'#0000a0',H12);
T('© 2007-2025 ICM, Uniwersytet Warszawski',623,648,'#0000a0',H12);
[['temperatura',291,95],['(°C)',304,95],['opad',291,182],['(mm/h, kg/m²/h)',304,182],['ciśnienie',291,270],['(hPa)',304,270],['wiatr',291,355],['(m/s)',304,355],['pion. rozciągł. chm.',291,478],['(km)',304,478],['zachmurzenie',291,572],['(oktanty)',304,563],
 ['(°C)',888,95],['temperatura',903,95],['(%)',888,182],['wilgotność wzgl.',903,182],['(mm Hg)',888,270],['ciśnienie',903,270],['(km/h)',888,355],['wiatr',903,355],['(km)',888,478],['widzialność',903,478],['(frakcja)',888,563],['mgła',903,563]].forEach(a=>R(a[0],a[1],a[2]));
[[283,415,'W'],[293,407,'N'],[293,423,'S'],[302,415,'E'],[883,415,'W'],[893,407,'N'],[893,423,'S'],[902,415,'E']].forEach(a=>T(a[2],a[0],a[1],navy,{fontSize:'13px'}));
const O=[['Czas lokalny',6,14],['(CET/CEST)',6,26],['Temperatura gruntu',6,42,BROWN],['max/min',27,52,BROWN],['Temperatura:',6,64],['punkt środkowy',13,76,RED],['max/min',27,86,'#ffd8cc'],['odczuwana',10,98,'#0000d0'],['max/min',27,108,'#a8dcff'],['Temp. punktu rosy',6,120,'#6a5acd'],['Opad powyżej skali',6,137,RED],['Wilgotność względna',6,151,'#e0400f'],['Wystąpienie burzy',6,165],['Deszcz: max',6,179,'#00a000'],['średni',48,190,'#00a000'],['Śnieg:',6,201,'#1030c0'],['max',48,201,'#1030c0'],['średni',48,212,'#1030c0'],['Wystąpienie opadu',6,224,RED],['konwekcyjnego',6,237,RED],['Ciśnienie',5,263.5],['zredukowane',5,276.5],['do poziomu morza',5,289],['Wiatr na 10m:',5,318],['poryw powyżej skali',10,334,RED],['max porywy wiatru',10,348,RED],['prędkość wiatru',10,367,navy],['w środku obszaru',10,381,navy],['kierunek wiatru',10,410,navy],['Wierzchołek chmur',6,429,BROWN],['Podstawa chmur*',6,444],['o pokryciu',6,456],['> 7.9 okt.',11,468],['> 6.5 okt.',11,480,'#555'],['> 4.5 okt.',10,491,'#999'],['> 2.5 okt.',11,501,'#ddd'],['Widzialność',6,527,'#ff8c00'],['Chmury:',6,543],['średnie',10,569,'#999'],['niskie',10,581,'#333'],['bardzo niskie',10,593,'#333'],['Mgła',6,605,'#ffb400'],['Czas uniwersalny (UTC)',6,622]];
O.forEach(a=>T(a[0],a[1],a[2],a[3]));
T('> 0.1 okt.',11,511,'#fff',{background:SKY,padding:'0 2px'});
T('wysokie',10,556,'#fff',{background:SKY,padding:'0 2px'});
T('* powyżej poziomu morza',5,648,'#000',{fontSize:'9px'});

// ---------- leader lines ----------
const L=[['#000',[68,17,133,17,156,46]],[BROWN,[102,43,120,43,155,103]],[RED,[92,76.7,115,76.7]],[RED,[130,76.7,134,78,160,107]],[BLUE,[71,99,135,99]],['#6a5acd',[94,120,123,120,142,113]],[RED,[102,137.3,137,137.3,147,145]],['#e0400f',[106,151,112,151]],['#e0400f',[130,152,137,153,144,163]],['#000',[94,166,112,166]],['#000',[129,166,132,165,137,172]],['#00a000',[71,179,138,179]],['#00a000',[80,190,143,190]],['#1030c0',[70,202,112,202]],['#1030c0',[129,202,161,172]],['#1030c0',[81,212,128,212,161,180]],[RED,[98,224,143,224,147,220]],['#000',[52,264,132,264,135,261]],[RED,[112,334,118,334]],[RED,[129,334,133,323,139,317]],[RED,[107,348,132,348,148,340]],[navy,[92,367,135,367]],[navy,[87,410,142,410]],[BROWN,[101,430,133,430,187,447]],['#000',[57,468,133,468,192,456]],['#555',[57,480,135,480,143,482]],['#999',[57,491,132,491,143,501]],['#ddd',[55,501,130,501,137,506]],[SKY,[55,509,135,509]],[SKY,[55,512,135,512]],['#ff8c00',[67,527,130,527,173,463]],[SKY,[54,556,185,556]],[SKY,[54,559,185,559]],['#999',[49,572,193,572]],['#333',[36,582,123,582]],['#333',[130,582,135,582]],['#333',[74,594,147,594]],['#ffb400',[27,605,217,605,219,597]],['#000',[139,623,148,623,157,608]]];
let s='<svg width="910" height="660" style="z-index:5">';
L.forEach(a=>{s+='<polyline fill="none" stroke="'+a[0]+'" stroke-width="1" points="'+a[1].join(',')+'"/>'});
s+='</svg>';document.body.insertAdjacentHTML('beforeend',s);
</script>
</body></html>
